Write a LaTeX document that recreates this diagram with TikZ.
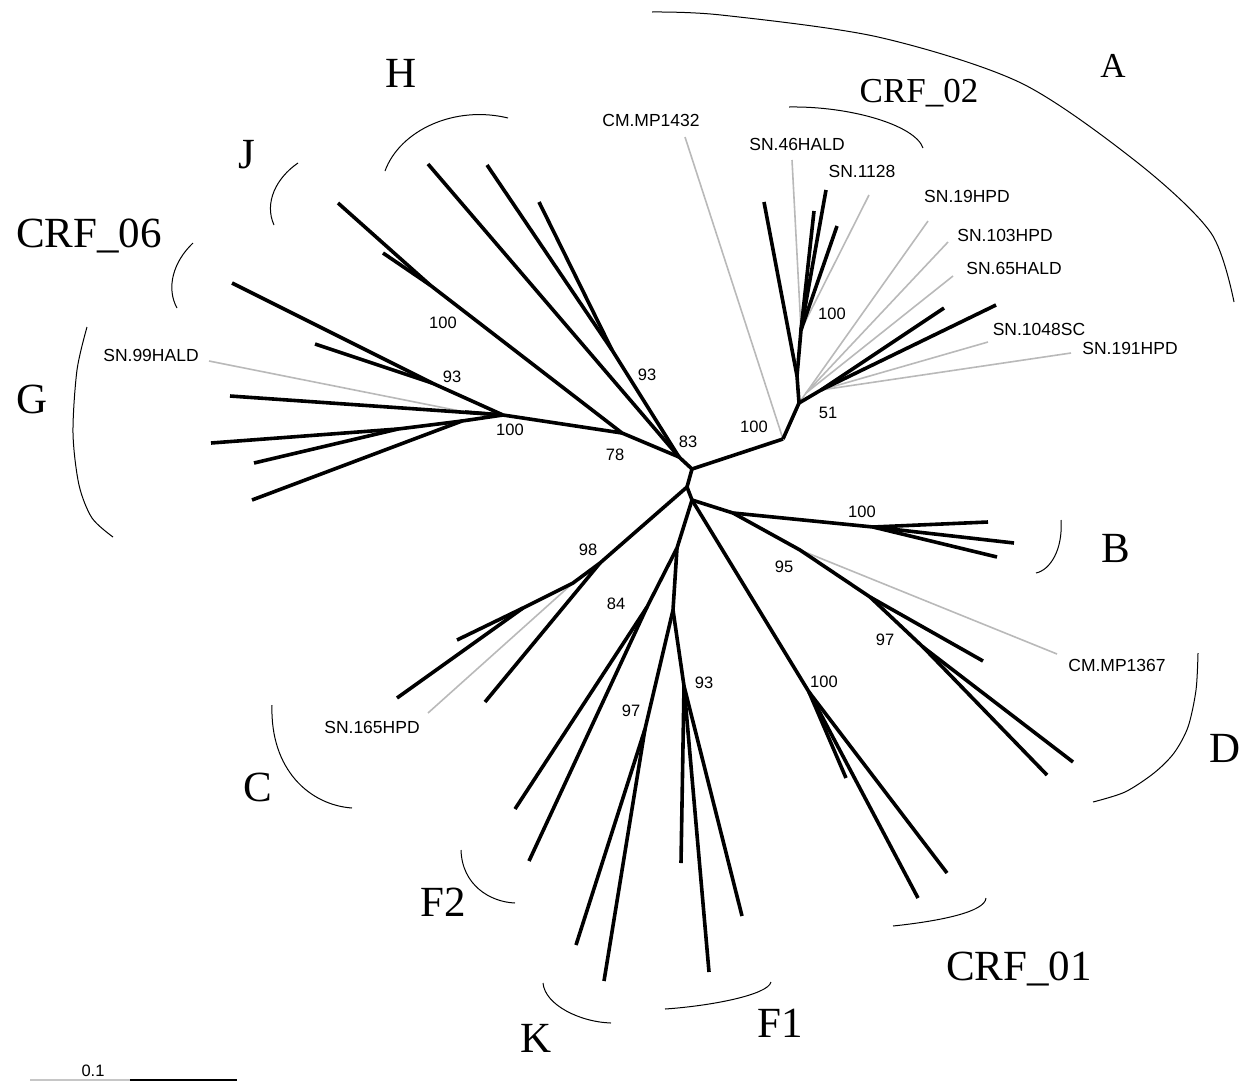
\documentclass[tikz,border=0pt]{standalone}
\usepackage{fontspec}
\setmainfont{Liberation Serif}
\setsansfont{Liberation Sans}

\begin{document}
\begin{tikzpicture}[x=1pt,y=-1pt,
  branch/.style={line width=3.6pt},
  faint/.style={line width=1.6pt,gray!55},
  bracket/.style={line width=1pt},
  boot/.style={font=\sffamily\fontsize{16.5}{18}\selectfont,inner sep=0pt},
  taxon/.style={font=\sffamily\fontsize{17.5}{19}\selectfont,inner sep=0pt},
  clade/.style={font=\fontsize{43}{46}\selectfont,inner sep=0pt,anchor=base},
  smallclade/.style={font=\fontsize{35}{38}\selectfont,inner sep=0pt,anchor=base}]
\useasboundingbox (0,0) rectangle (1241,1082);

%Centre
\coordinate (c1) at (692,469);
\coordinate (c2) at (687,487);
\coordinate (c3) at (692,500);

%A and CRF_02
\coordinate (aR) at (783,439);
\coordinate (a51) at (799,403);
\coordinate (a1) at (797,376);
\coordinate (a02) at (801,330);
\coordinate (aG) at (806,393);
\coordinate (aF) at (821,390);
\coordinate (tCM1432) at (685,137);
\coordinate (tA1) at (764,202);
\coordinate (t46) at (792,160);
\coordinate (tA2) at (814,211);
\coordinate (tA3) at (826,190);
\coordinate (tA4) at (837,226);
\coordinate (t1128) at (869,195);
\coordinate (t19) at (928,221);
\coordinate (t103) at (948,242);
\coordinate (t65) at (953,276);
\coordinate (tA5) at (944,308);
\coordinate (tA6) at (996,305);
\coordinate (t1048) at (988,342);
\coordinate (t191) at (1071,353);

%H, J, CRF_06, G
\coordinate (n83) at (679,457);
\coordinate (nH93) at (612,350);
\coordinate (tH1) at (428,164);
\coordinate (tH2) at (487,165);
\coordinate (tH3) at (539,202);
\coordinate (n78) at (622,433);
\coordinate (nJ) at (430,285);
\coordinate (tJ1) at (338,203);
\coordinate (tJ2) at (383,253);
\coordinate (nG) at (503,415);
\coordinate (nG93) at (432,383);
\coordinate (t06a) at (232,283);
\coordinate (t06b) at (315,344);
\coordinate (g0) at (465,412);
\coordinate (t99) at (209,361);
\coordinate (tG1) at (230,396);
\coordinate (g2) at (462,421);
\coordinate (g1) at (398,429);
\coordinate (tG2) at (211,443);
\coordinate (tG3) at (254,463);
\coordinate (tG4) at (252,500);

%C
\coordinate (nC98) at (600,563);
\coordinate (nC1) at (573,583);
\coordinate (nC2) at (523,608);
\coordinate (tC1) at (457,640);
\coordinate (tC2) at (397,698);
\coordinate (tC3) at (485,702);
\coordinate (t165) at (428,713);

%F1, F2, K
\coordinate (nF) at (677,548);
\coordinate (n84) at (647,607);
\coordinate (tF2a) at (515,809);
\coordinate (tF2b) at (529,861);
\coordinate (nKF) at (673,610);
\coordinate (nK97) at (645,729);
\coordinate (tKa) at (576,945);
\coordinate (tKb) at (604,981);
\coordinate (nF93) at (684,686);
\coordinate (tF1a) at (681,863);
\coordinate (tF1b) at (709,972);
\coordinate (tF1c) at (742,916);

%CRF_01
\coordinate (nR) at (809,692);
\coordinate (tR0) at (846,778);
\coordinate (tR1) at (918,898);
\coordinate (tR2) at (947,873);

%B and D
\coordinate (nBD) at (733,513);
\coordinate (nB) at (873,527);
\coordinate (tB1) at (988,522);
\coordinate (tB2) at (1014,543);
\coordinate (tB3) at (997,557);
\coordinate (nD95) at (800,550);
\coordinate (tCM67) at (1057,654);
\coordinate (nD97) at (870,597);
\coordinate (nD1) at (923,647);
\coordinate (tD1) at (983,661);
\coordinate (tD2) at (1047,775);
\coordinate (tD3) at (1073,762);

%Grey taxa
\draw[faint] (aR) -- (tCM1432);
\draw[faint] (a02) -- (t46);
\draw[faint] (a02) -- (t1128);
\draw[faint] (a51) -- (aG) -- (t19);
\draw[faint] (aG) -- (t103);
\draw[faint] (aG) -- (t65);
\draw[faint] (aF) -- (t1048);
\draw[faint] (aF) -- (t191);
\draw[faint] (g0) -- (t99);
\draw[faint] (nC1) -- (t165);
\draw[faint] (nD95) -- (tCM67);

%Backbone
\draw[branch] (n83) -- (c1) -- (c2) -- (c3);
\draw[branch] (c1) -- (aR);

%A
\draw[branch] (aR) -- (a51) -- (a1) -- (a02);
\draw[branch] (a1) -- (tA1);
\draw[branch] (a02) -- (tA2);
\draw[branch] (a02) -- (tA3);
\draw[branch] (a02) -- (tA4);
\draw[branch] (a51) -- (aF) -- (tA5);
\draw[branch] (aF) -- (tA6);

%H, J, CRF_06, G
\draw[branch] (n83) -- (tH1);
\draw[branch] (n83) -- (nH93) -- (tH2);
\draw[branch] (nH93) -- (tH3);
\draw[branch] (n83) -- (n78) -- (nJ) -- (tJ1);
\draw[branch] (nJ) -- (tJ2);
\draw[branch] (n78) -- (nG) -- (nG93) -- (t06a);
\draw[branch] (nG93) -- (t06b);
\draw[branch] (nG) -- (g0);
\draw[branch] (nG) -- (tG1);
\draw[branch] (nG) -- (g2) -- (tG4);
\draw[branch] (g2) -- (g1) -- (tG2);
\draw[branch] (g1) -- (tG3);

%C
\draw[branch] (c2) -- (nC98) -- (nC1) -- (nC2) -- (tC1);
\draw[branch] (nC2) -- (tC2);
\draw[branch] (nC98) -- (tC3);

%F1, F2, K
\draw[branch] (c3) -- (nF) -- (n84) -- (tF2a);
\draw[branch] (n84) -- (tF2b);
\draw[branch] (nF) -- (nKF) -- (nK97) -- (tKa);
\draw[branch] (nK97) -- (tKb);
\draw[branch] (nKF) -- (nF93) -- (tF1a);
\draw[branch] (nF93) -- (tF1b);
\draw[branch] (nF93) -- (tF1c);

%CRF_01
\draw[branch] (c3) -- (nR) -- (tR1);
\draw[branch] (nR) -- (tR0);
\draw[branch] (nR) -- (tR2);

%B and D
\draw[branch] (c3) -- (nBD) -- (nB) -- (tB1);
\draw[branch] (nB) -- (tB2);
\draw[branch] (nB) -- (tB3);
\draw[branch] (nBD) -- (nD95) -- (nD97) -- (tD1);
\draw[branch] (nD97) -- (nD1) -- (tD2);
\draw[branch] (nD1) -- (tD3);

%Bootstrap values
\node[boot] (bA) at (754,427) {100};
\node[boot] (b51) at (828,413) {51};
\node[boot] (b02) at (832,314) {100};
\node[boot] (b83) at (688,442) {83};
\node[boot] (bH) at (647,375) {93};
\node[boot] (b78) at (615,455) {78};
\node[boot] (bJ) at (443,323) {100};
\node[boot] (b06) at (452,377) {93};
\node[boot] (bG) at (510,430) {100};
\node[boot] (bC) at (588,550) {98};
\node[boot] (bF2) at (616,604) {84};
\node[boot] (bK) at (631,711) {97};
\node[boot] (bF1) at (704,683) {93};
\node[boot] (b01) at (824,682) {100};
\node[boot] (bD95) at (784,567) {95};
\node[boot] (bD) at (885,640) {97};
\node[boot] (bB) at (862,512) {100};

%Taxa
\node[taxon] (lCM1432) at (651,120) {CM.MP1432};
\node[taxon] (l46) at (797,144) {SN.46HALD};
\node[taxon] (l1128) at (862,171) {SN.1128};
\node[taxon] (l19) at (967,196) {SN.19HPD};
\node[taxon] (l103) at (1005,235) {SN.103HPD};
\node[taxon] (l65) at (1014,268) {SN.65HALD};
\node[taxon] (l1048) at (1039,329) {SN.1048SC};
\node[taxon] (l191) at (1130,348) {SN.191HPD};
\node[taxon] (l99) at (151,355) {SN.99HALD};
\node[taxon] (l165) at (372,727) {SN.165HPD};
\node[taxon] (lCM67) at (1117,665) {CM.MP1367};

%Subtype brackets
\draw[bracket] plot[smooth] coordinates {(652,12) (721,15) (878,37) (1021,83) (1138,163) (1211,233) (1234,302)};
\draw[bracket] (789,107) .. controls (850,106) and (915,125) .. (923,148);
\draw[bracket] (385,171) .. controls (400,130) and (455,105) .. (508,118);
\draw[bracket] (298,163) .. controls (276,178) and (264,203) .. (274,225);
\draw[bracket] (193,243) .. controls (173,262) and (166,288) .. (177,308);
\draw[bracket] plot[smooth] coordinates {(87,327) (77,370) (73,433) (79,485) (92,518) (113,537)};
\draw[bracket] (272,705) .. controls (270,770) and (310,805) .. (352,808);
\draw[bracket] (461,850) .. controls (462,885) and (490,902) .. (515,903);
\draw[bracket] (543,983) .. controls (545,1005) and (580,1022) .. (611,1023);
\draw[bracket] (665,1009) .. controls (710,1006) and (768,995) .. (771,982);
\draw[bracket] (893,926) .. controls (940,921) and (985,912) .. (986,898);
\draw[bracket] plot[smooth] coordinates {(1198,653) (1196,690) (1188,727) (1174,753) (1154,773) (1125,792) (1093,802)};
\draw[bracket] (1061,520) .. controls (1063,550) and (1050,570) .. (1036,573);

%Subtype names
\node[smallclade] (nameA) at (1113,77) {A};
\node[smallclade] (name02) at (919,102) {CRF\_02};
\node[clade] (nameH) at (401,87) {H};
\node[clade] (nameJ) at (247,168) {J};
\node[clade] (name06) at (89,247) {CRF\_06};
\node[clade] (nameG) at (32,413) {G};
\node[clade] (nameB) at (1116,562) {B};
\node[clade] (nameD) at (1225,762) {D};
\node[clade] (name01) at (1019,980) {CRF\_01};
\node[clade] (nameF1) at (780,1037) {F1};
\node[clade] (nameK) at (536,1052) {K};
\node[clade] (nameF2) at (443,916) {F2};
\node[clade] (nameC) at (258,801) {C};

%Scale
\coordinate (sL) at (30,1080);
\coordinate (sM) at (130,1080);
\coordinate (sR) at (237,1080);
\draw[line width=1.5pt,gray!45] (sL) -- (sM);
\draw[line width=1.5pt] (sM) -- (sR);
\node[boot] (scale) at (93,1071) {0.1};
\end{tikzpicture}
\end{document}
